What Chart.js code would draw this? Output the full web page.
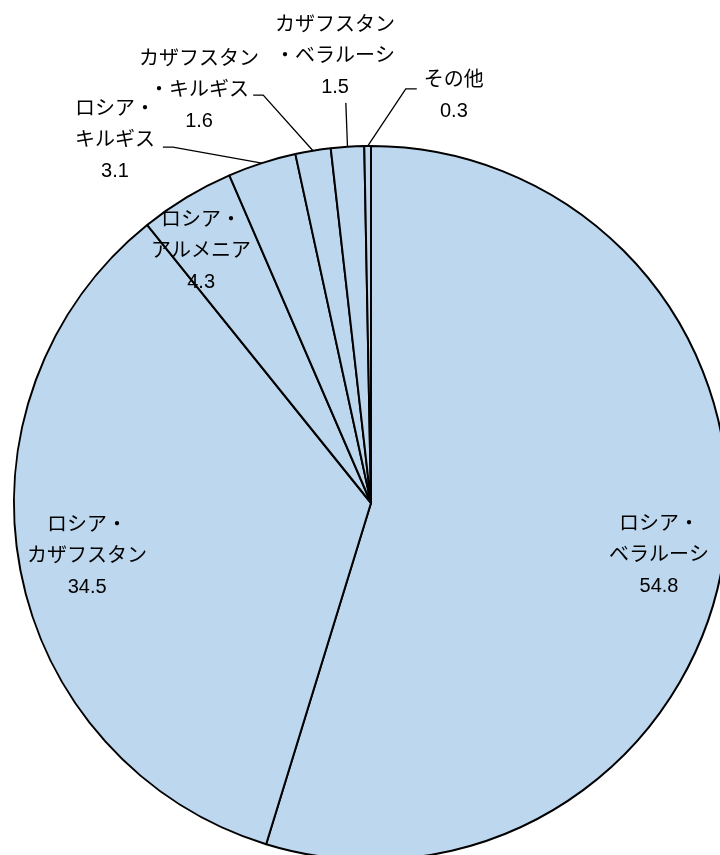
<!DOCTYPE html>
<html>
<head>
<meta charset="utf-8">
<script src="https://cdn.jsdelivr.net/npm/chart.js@4/dist/chart.umd.min.js"></script>
<style>
  html, body { margin: 0; padding: 0; background: #fff; overflow: hidden; width: 720px; height: 855px; }
  #wrap { position: absolute; left: 0; top: 0; }
</style>
</head>
<body>
<div id="wrap"><canvas id="pie" width="742" height="1006"></canvas></div>
<script>
// 貿易の内訳（%）
var categories = ['ロシア・ベラルーシ', 'ロシア・カザフスタン', 'ロシア・アルメニア', 'ロシア・キルギス',
                  'カザフスタン・キルギス', 'カザフスタン・ベラルーシ', 'その他'];
var values = [54.8, 34.5, 4.3, 3.1, 1.6, 1.5, 0.3];
// ラベルの改行位置
var labelLines = [
    ['ロシア・', 'ベラルーシ'],
    ['ロシア・', 'カザフスタン'],
    ['ロシア・', 'アルメニア'],
    ['ロシア・', 'キルギス'],
    ['カザフスタン', '・キルギス'],
    ['カザフスタン', '・ベラルーシ'],
    ['その他']
];

// ラベル位置（半径比・角度）と引き出し線の折れ点
var labelPos = [
    { r: 0.82, deg: 10.3 },
    { r: 0.809, deg: 169.4 },
    { r: 0.851, deg: -124 },
    { r: 1.244, deg: -125.2, elbow: { r: 1.141, deg: -119.1 }, tick: -10 },
    { r: 1.253, deg: -112.6, elbow: { r: 1.182, deg: -104.8 }, tick: -10 },
    { r: 1.256, deg: -94.6, elbow: { r: 1.123, deg: -93.6 }, tick: 0 },
    { r: 1.164, deg: -78.5, elbow: { r: 1.164, deg: -85.2 }, tick: 11 }
];

var sliceLabels = {
    id: 'sliceLabels',
    afterDatasetsDraw: function(chart) {
        var ctx = chart.ctx;
        var arcs = chart.getDatasetMeta(0).data;
        var gap = 31;
        ctx.save();
        ctx.fillStyle = '#000';
        ctx.strokeStyle = '#000';
        ctx.lineWidth = 1.3;
        ctx.textAlign = 'center';
        ctx.textBaseline = 'middle';
        ctx.font = '20px "Liberation Sans", "Noto Sans CJK JP", sans-serif';
        arcs.forEach(function(arc, i) {
            var p = arc.getProps(['x', 'y', 'startAngle', 'endAngle', 'outerRadius'], true);
            var lp = labelPos[i];
            var a = lp.deg * Math.PI / 180;
            var tx = p.x + Math.cos(a) * lp.r * p.outerRadius;
            var ty = p.y + Math.sin(a) * lp.r * p.outerRadius;
            var lines = labelLines[i].concat([values[i].toFixed(1)]);
            lines.forEach(function(t, k) {
                ctx.fillText(t, tx, ty + (k - (lines.length - 1) / 2) * gap);
            });
            // 引き出し線
            if (lp.elbow) {
                var mid = (p.startAngle + p.endAngle) / 2;
                var sx = p.x + Math.cos(mid) * p.outerRadius;
                var sy = p.y + Math.sin(mid) * p.outerRadius;
                var ea = lp.elbow.deg * Math.PI / 180;
                var ex = p.x + Math.cos(ea) * lp.elbow.r * p.outerRadius;
                var ey = p.y + Math.sin(ea) * lp.elbow.r * p.outerRadius;
                ctx.beginPath();
                ctx.moveTo(sx, sy);
                ctx.lineTo(ex, ey);
                if (lp.tick) ctx.lineTo(ex + lp.tick, ey);
                ctx.stroke();
            }
        });
        ctx.restore();
    }
};

new Chart(document.getElementById('pie').getContext('2d'), {
    type: 'pie',
    data: {
        labels: categories,
        datasets: [{
            data: values,
            backgroundColor: '#BDD7EE',
            borderColor: '#000000',
            borderWidth: 2
        }]
    },
    options: {
        responsive: false,
        animation: false,
        radius: 357,
        layout: { padding: 0 },
        plugins: { legend: { display: false }, tooltip: { enabled: false } }
    },
    plugins: [sliceLabels]
});
</script>
</body>
</html>
